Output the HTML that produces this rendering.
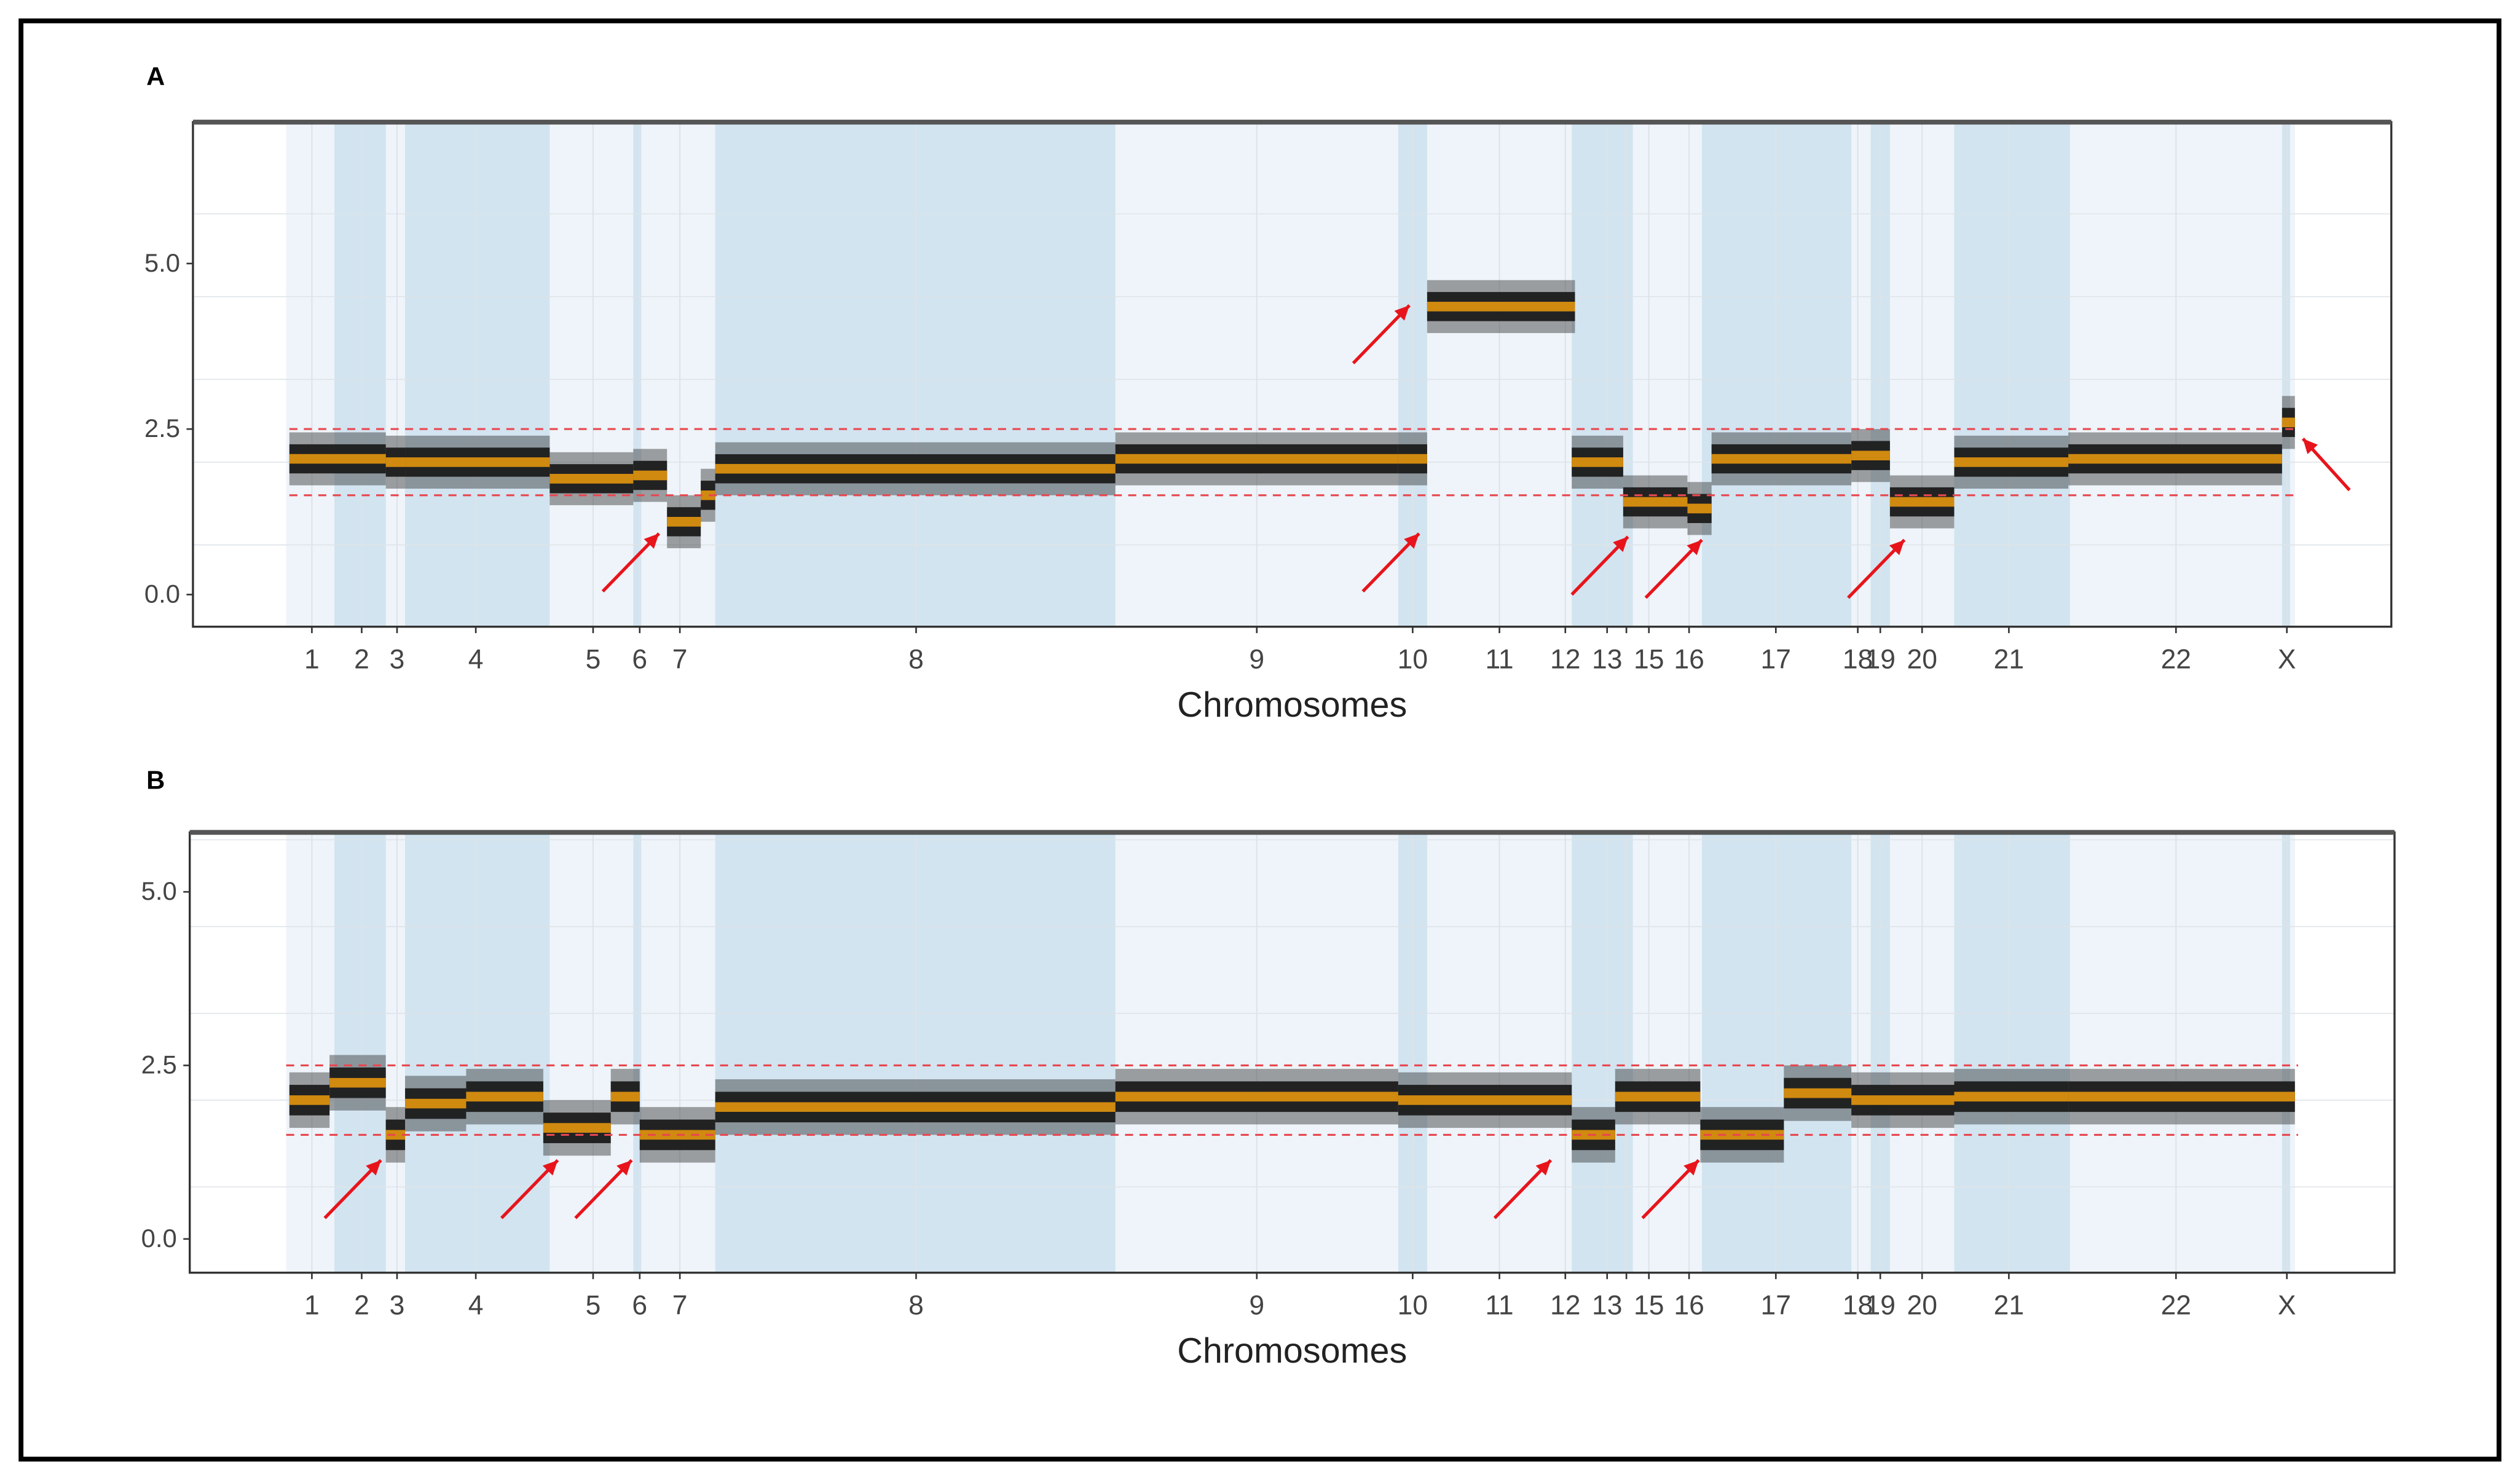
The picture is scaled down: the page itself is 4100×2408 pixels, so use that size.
<!DOCTYPE html>
<html><head><meta charset="utf-8"><style>
html,body{margin:0;padding:0;background:#fff}
svg{display:block}
text{font-family:"Liberation Sans",sans-serif}
</style></head><body>
<svg id="fig" width="4100" height="2408" viewBox="0 0 1568 921" xmlns="http://www.w3.org/2000/svg">
<rect x="0" y="0" width="1568" height="921" fill="#fff"/>
<rect x="13" y="13" width="1542" height="895" fill="none" stroke="#000" stroke-width="3"/>
<g id="layer"></g>
</svg>
<script>
const darkBands=[[208,240],[252,342],[394,399],[445,694],[870,888],[978,1016],[1059,1152],[1164,1176],[1216,1288],[1420,1425]];
const chromLabels=["1","2","3","4","5","6","7","8","9","10","11","12","13","","15","16","17","18","19","20","21","22","X"];
const chromPos=[194,225,247,296,369,398,423,570,782,879,933,974,1000,1012,1026,1051,1105,1156,1170,1196,1250,1354,1423];
const yTicks=[0,2.5,5];
const yTickLabels=["0.0","2.5","5.0"];
const thresholds=[1.5,2.5];
const segStartA=[180,208,240,252,342,394,415,436,445,694,870,888,978,1010,1050,1065,1152,1176,1216,1287,1420];
const segEndA=  [208,240,252,342,394,415,436,445,694,870,888,980,1010,1050,1065,1152,1176,1216,1287,1420,1428];
const segValA=  [2.05,2.05,2.0,2.0,1.75,1.8,1.1,1.5,1.9,2.05,2.05,4.35,2.0,1.4,1.3,2.05,2.1,1.4,2.0,2.05,2.6];
const segStartB=[180,205,240,252,290,338,380,398,445,694,870,978,1005,1058,1110,1152,1216,1287];
const segEndB=  [205,240,252,290,338,380,398,445,694,870,978,1005,1058,1110,1152,1216,1287,1428];
const segValB=  [2.0,2.25,1.5,1.95,2.05,1.6,2.05,1.5,1.9,2.05,2.0,1.5,2.05,1.5,2.1,2.0,2.05,2.05];
const arrowsA=[[375,368,410,332],[842,226,877,190],[848,368,883,332],[978,370,1013,334],[1024,372,1059,336],[1150,372,1185,336],[1462,305,1433,273]];
const arrowsB=[[202,758,237,722],[312,758,347,722],[358,758,393,722],[930,758,965,722],[1022,758,1057,722]];

const NS="http://www.w3.org/2000/svg";
const layer=document.getElementById('layer');
function mk(tag,attrs,parent){const e=document.createElementNS(NS,tag);for(const k in attrs)e.setAttribute(k,attrs[k]);(parent||layer).appendChild(e);return e;}

function panel(cfg){
  const g=mk('g',{});
  
  
  const y=v=>cfg.y0-v*cfg.k;
  mk('rect',{x:cfg.x1,y:cfg.top,width:cfg.x2-cfg.x1,height:cfg.bottom-cfg.top,fill:'#fff'},g);
  mk('rect',{x:178,y:cfg.top,width:1250,height:cfg.bottom-cfg.top,fill:'#eef4f9'},g);
  darkBands.forEach(b=>{const r=mk('rect',{x:b[0],y:cfg.top,width:b[1]-b[0],height:cfg.bottom-cfg.top,fill:'#d2e4f0'},g);
    
    });
  for(let v=-0.5;v<=6.5;v+=1.25){if(y(v)>cfg.top&&y(v)<cfg.bottom)mk('line',{x1:cfg.x1,x2:cfg.x2,y1:y(v),y2:y(v),stroke:'#dde3e8','stroke-width':v%2.5===0?1:0.6},g);}
  chromPos.forEach(p=>mk('line',{x1:p,x2:p,y1:cfg.top,y2:cfg.bottom,stroke:'#dde3e8','stroke-width':0.8},g));
  const S=cfg.starts,E=cfg.ends,V=cfg.vals;
  for(let i=0;i<S.length;i++){
    const c=mk('rect',{x:S[i],y:y(V[i]+0.4),width:E[i]-S[i],height:0.8*cfg.k,fill:'#333','opacity':0.45},g);
    
    
    const d=mk('rect',{x:S[i],y:y(V[i]+0.22),width:E[i]-S[i],height:0.44*cfg.k,fill:'#151515','opacity':0.9},g);
    
    
  }
  for(let i=0;i<S.length;i++){
    const l=mk('line',{x1:S[i],x2:E[i],y1:y(V[i]),y2:y(V[i]),stroke:'#d08a10','stroke-width':6},g);
    
    
  }
  thresholds.forEach(t=>{const l=mk('line',{x1:cfg.x1+60,x2:cfg.x2-60,y1:y(t),y2:y(t),stroke:'#e8474f','stroke-width':1.2,'stroke-dasharray':'5,4'},g);
    
    });
  mk('rect',{x:cfg.x1,y:cfg.top,width:cfg.x2-cfg.x1,height:cfg.bottom-cfg.top,fill:'none',stroke:'#333','stroke-width':1.3},g);
  mk('line',{x1:cfg.x1,x2:cfg.x2,y1:cfg.top,y2:cfg.top,stroke:'#555','stroke-width':3},g);
  yTicks.forEach((v,i)=>{mk('line',{x1:cfg.x1-4,x2:cfg.x1,y1:y(v),y2:y(v),stroke:'#333'},g);
    const t=mk('text',{x:cfg.x1-8,y:y(v)+5,'text-anchor':'end','font-size':16,fill:'#444'},g);t.textContent=yTickLabels[i];
    
    });
  chromPos.forEach((p,i)=>{mk('line',{x1:p,x2:p,y1:cfg.bottom,y2:cfg.bottom+4,stroke:'#333'},g);
    const t=mk('text',{x:p,y:cfg.bottom+26,'text-anchor':'middle','font-size':17,fill:'#444'},g);t.textContent=chromLabels[i];
    
    });
  const tt=mk('text',{x:804,y:cfg.bottom+56,'text-anchor':'middle','font-size':22,fill:'#222'},g);tt.textContent='Chromosomes';
  
  
  const pl=mk('text',{x:91,y:cfg.labelY,'font-size':16,'font-weight':'bold',fill:'#000'},g);pl.textContent=cfg.id;
  
  
  cfg.arrows.forEach(a=>{
    const ar=mk('g',{},g);
    
    
    mk('line',{x1:a[0],y1:a[1],x2:a[2],y2:a[3],stroke:'#e8141b','stroke-width':2},ar);
    const ang=Math.atan2(a[3]-a[1],a[2]-a[0]);const L=10,w=0.45;
    const p1=[a[2]-L*Math.cos(ang-w),a[3]-L*Math.sin(ang-w)],p2=[a[2]-L*Math.cos(ang+w),a[3]-L*Math.sin(ang+w)];
    mk('polygon',{points:`${a[2]},${a[3]} ${p1[0]},${p1[1]} ${p2[0]},${p2[1]}`,fill:'#e8141b'},ar);
  });
}
panel({id:'A',x1:120,x2:1488,top:76,bottom:390,y0:370,k:41.2,labelY:53,starts:segStartA,ends:segEndA,vals:segValA,arrows:arrowsA});
panel({id:'B',x1:118,x2:1490,top:518,bottom:792,y0:771,k:43.2,labelY:491,starts:segStartB,ends:segEndB,vals:segValB,arrows:arrowsB});
</script>
</body></html>
